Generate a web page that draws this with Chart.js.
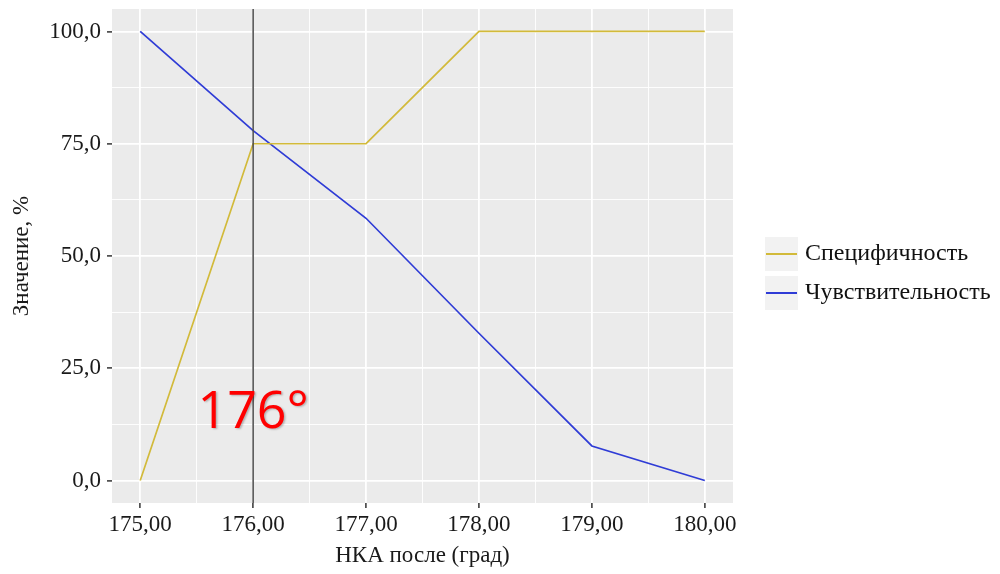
<!DOCTYPE html>
<html>
<head>
<meta charset="utf-8">
<script src="https://cdn.jsdelivr.net/npm/chart.js@4/dist/chart.umd.min.js"></script>
<style>
  html, body { margin: 0; padding: 0; background: #fff; }
  #wrap { width: 1000px; height: 574px; }
</style>
</head>
<body>
<div id="wrap"><canvas id="myChart" width="1000" height="574"></canvas></div>
<script>
// values
const angles = [175, 176, 177, 178, 179, 180];
const specificity = [0, 75, 75, 100, 100, 100];
const sensitivity = [100, 77.9, 58.4, 32.8, 7.7, 0];
const xTicks = [175, 175.5, 176, 176.5, 177, 177.5, 178, 178.5, 179, 179.5, 180];
const yTicks = [0, 12.5, 25, 37.5, 50, 62.5, 75, 87.5, 100];
const seriesNames = ['Специфичность', 'Чувствительность'];
const cutoff = 176;
const cutoffLabel = '176°';

const yellow = '#D2BA3A';
const blue = '#2F3CD6';
const serif = '"Liberation Serif", "Times New Roman", serif';

function isMajorX(v) { return Number.isInteger(v); }
function isMajorY(v) { return v % 25 === 0; }

// panel background, cut-off line and red label
const panelPlugin = {
  id: 'panel',
  beforeDraw(chart) {
    const a = chart.chartArea, ctx = chart.ctx;
    ctx.save();
    ctx.fillStyle = '#EBEBEB';
    ctx.fillRect(a.left, a.top, a.right - a.left, a.bottom - a.top);
    ctx.restore();
  },
  afterDatasetsDraw(chart) {
    const a = chart.chartArea, ctx = chart.ctx;
    const x = chart.scales.x.getPixelForValue(cutoff);
    ctx.save();
    ctx.strokeStyle = '#4a4a4a';
    ctx.lineWidth = 1.5;
    ctx.beginPath();
    ctx.moveTo(x, a.top);
    ctx.lineTo(x, a.bottom);
    ctx.stroke();
    ctx.font = '52px "Open Sans", sans-serif';
    ctx.fillStyle = '#FF0000';
    ctx.textAlign = 'center';
    ctx.textBaseline = 'alphabetic';
    ctx.shadowColor = 'rgba(0,0,0,0.25)';
    ctx.shadowOffsetX = 1.5;
    ctx.shadowOffsetY = 1.5;
    ctx.shadowBlur = 2;
    ctx.fillText(cutoffLabel, x, chart.scales.y.getPixelForValue(11.8));
    ctx.restore();
  },
  afterDraw(chart) {
    // ggplot-like legend on the right
    const ctx = chart.ctx;
    const colors = [yellow, blue];
    const keyX = 765, keyW = 33, keyH = 34, top0 = 237, gap = 5;
    ctx.save();
    seriesNames.forEach((name, i) => {
      const y = top0 + i * (keyH + gap);
      ctx.fillStyle = '#F2F2F2';
      ctx.fillRect(keyX, y, keyW, keyH);
      ctx.strokeStyle = colors[i];
      ctx.lineWidth = 2;
      ctx.beginPath();
      ctx.moveTo(keyX + 1, y + keyH / 2);
      ctx.lineTo(keyX + keyW - 1, y + keyH / 2);
      ctx.stroke();
      ctx.fillStyle = '#111';
      ctx.font = '24px ' + serif;
      ctx.textAlign = 'left';
      ctx.textBaseline = 'middle';
      ctx.fillText(name, keyX + keyW + 7, y + keyH / 2);
    });
    ctx.restore();
  }
};

const ctx = document.getElementById('myChart').getContext('2d');
const myChart = new Chart(ctx, {
  type: 'line',
  data: {
    datasets: [{
      label: seriesNames[0],
      data: angles.map((a, i) => ({ x: a, y: specificity[i] })),
      borderColor: yellow,
      borderWidth: 1.7,
      pointRadius: 0,
      tension: 0
    }, {
      label: seriesNames[1],
      data: angles.map((a, i) => ({ x: a, y: sensitivity[i] })),
      borderColor: blue,
      borderWidth: 1.7,
      pointRadius: 0,
      tension: 0
    }]
  },
  options: {
    responsive: false,
    animation: false,
    layout: { padding: { left: 0, top: 9, right: 267, bottom: 0 } },
    plugins: { legend: { display: false }, tooltip: { enabled: false } },
    scales: {
      x: {
        type: 'linear',
        min: 174.75,
        max: 180.25,
        afterBuildTicks(scale) { scale.ticks = xTicks.map(v => ({ value: v })); },
        afterFit(scale) {
          scale.height = 71;
          scale.paddingLeft = 0;
          scale.paddingRight = 0;
        },
        border: { display: false },
        grid: {
          color: '#FFFFFF',
          lineWidth: c => isMajorX(c.tick.value) ? 1.8 : 0.9,
          tickColor: c => isMajorX(c.tick.value) ? '#333333' : 'rgba(0,0,0,0)',
          tickLength: 5,
          tickWidth: 1.5
        },
        ticks: {
          autoSkip: false,
          maxRotation: 0,
          padding: 3,
          color: '#1a1a1a',
          font: { family: serif, size: 23 },
          callback: v => isMajorX(v) ? v.toFixed(2).replace('.', ',') : ''
        },
        title: {
          display: true,
          text: 'НКА после (град)',
          color: '#1a1a1a',
          font: { family: serif, size: 23 },
          padding: { top: 0, bottom: 4 }
        }
      },
      y: {
        min: -5,
        max: 105,
        afterBuildTicks(scale) { scale.ticks = yTicks.map(v => ({ value: v })); },
        afterFit(scale) {
          scale.width = 112;
          scale.paddingTop = 0;
          scale.paddingBottom = 0;
        },
        border: { display: false },
        grid: {
          color: '#FFFFFF',
          lineWidth: c => isMajorY(c.tick.value) ? 1.8 : 0.9,
          tickColor: c => isMajorY(c.tick.value) ? '#333333' : 'rgba(0,0,0,0)',
          tickLength: 5,
          tickWidth: 1.5
        },
        ticks: {
          autoSkip: false,
          padding: 6,
          color: '#1a1a1a',
          font: { family: serif, size: 23 },
          callback: v => isMajorY(v) ? v.toFixed(1).replace('.', ',') : ''
        },
        title: {
          display: true,
          text: 'Значение, %',
          color: '#1a1a1a',
          font: { family: serif, size: 23 },
          padding: { top: 8, bottom: 0 }
        }
      }
    }
  },
  plugins: [panelPlugin]
});
</script>
</body>
</html>
